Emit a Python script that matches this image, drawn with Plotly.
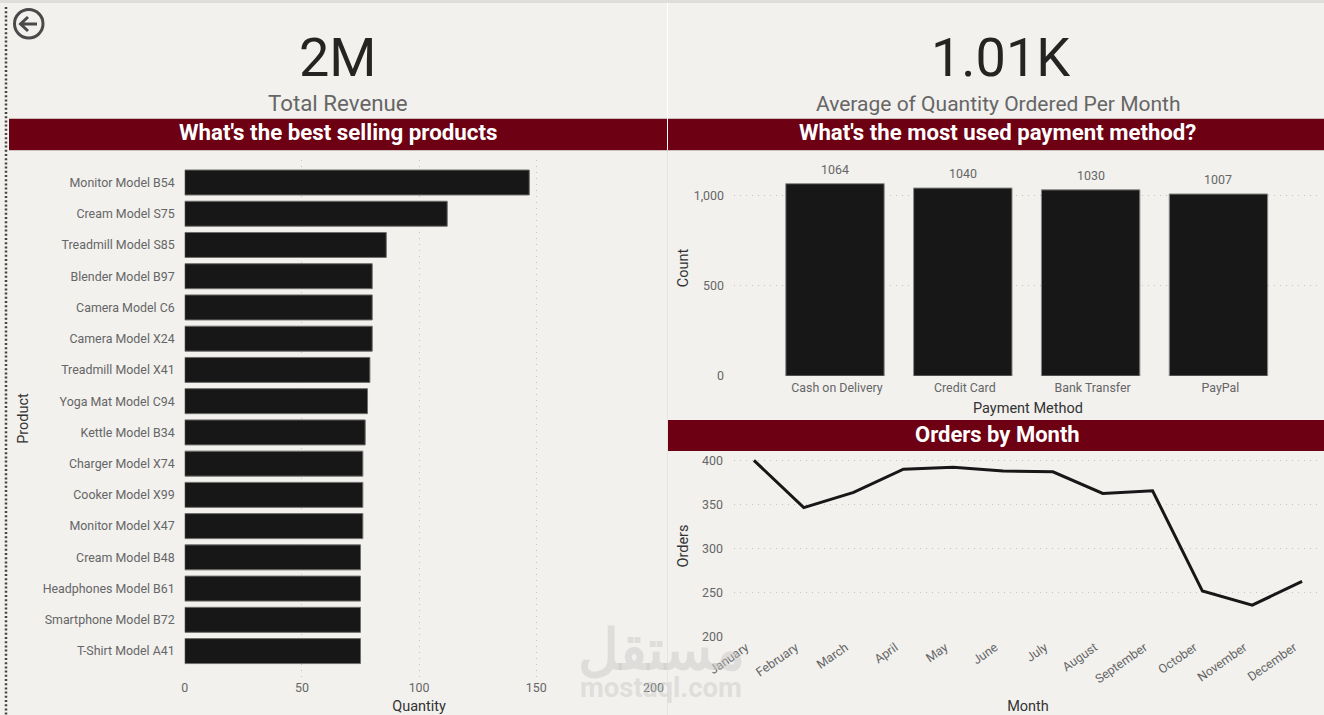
import plotly.graph_objects as go

products = ["Monitor Model B54", "Cream Model S75", "Treadmill Model S85", "Blender Model B97",
            "Camera Model C6", "Camera Model X24", "Treadmill Model X41", "Yoga Mat Model C94",
            "Kettle Model B34", "Charger Model X74", "Cooker Model X99", "Monitor Model X47",
            "Cream Model B48", "Headphones Model B61", "Smartphone Model B72", "T-Shirt Model A41"]
quantity = [147, 112, 86, 80, 80, 80, 79, 78, 77, 76, 76, 76, 75, 75, 75, 75]

payment_methods = ["Cash on Delivery", "Credit Card", "Bank Transfer", "PayPal"]
payment_counts = [1064, 1040, 1030, 1007]

months = ["January", "February", "March", "April", "May", "June", "July", "August",
          "September", "October", "November", "December"]
orders = [400, 346.5, 363.6, 390, 392, 388, 387, 362.5, 365.5, 252, 236, 263]

W, H = 1324, 715
BG = "#F2F1EE"
MAROON = "#6D0012"
BAR = "#171717"
TICK = "#666666"
TITLE = "#333333"
GRID = "#C4C3C0"
FONT = "Roboto"


def px(x):
    return x / W


def py(y):
    return 1 - y / H


fig = go.Figure()

fig.add_trace(go.Bar(y=products, x=quantity, orientation="h", width=0.8, xaxis="x", yaxis="y",
                     marker=dict(color=BAR, line=dict(color="#6E6E6C", width=1)),
                     hoverinfo="x+y"))
fig.add_trace(go.Bar(x=payment_methods, y=payment_counts, width=0.77, xaxis="x2", yaxis="y2",
                     marker=dict(color=BAR, line=dict(color="#8A8A88", width=1)),
                     hoverinfo="x+y"))
fig.add_trace(go.Scatter(x=months, y=orders, mode="lines", xaxis="x3", yaxis="y3",
                         line=dict(color=BAR, width=3), cliponaxis=False, hoverinfo="x+y"))


def axis(domain, anchor, **kw):
    base = dict(domain=domain, anchor=anchor, showline=False, zeroline=False, ticks="",
                tickfont=dict(color=TICK, size=12.4, family=FONT), automargin=False)
    base.update(kw)
    return base


def axis_title(text, standoff):
    return dict(text=text, font=dict(color=TITLE, size=14.5, family=FONT), standoff=standoff)


grid = dict(showgrid=True, gridcolor=GRID, griddash="1px 5px", gridwidth=1)

fig.update_layout(
    width=W, height=H, autosize=False, showlegend=False,
    margin=dict(l=0, r=0, t=0, b=0),
    paper_bgcolor=BG, plot_bgcolor=BG,
    font=dict(family=FONT, color=TICK),
    bargap=0.2,
    xaxis=axis([px(184.7), px(653.5)], "y", range=[0, 200], tickvals=[0, 50, 100, 150, 200],
               ticklabelstandoff=2, title=axis_title("Quantity", 10), **grid),
    yaxis=axis([py(677), py(160)], "x", type="category", categoryorder="array", categoryarray=products,
               range=[15.83, -0.72], showgrid=False, ticklabelstandoff=9, title=axis_title("Product", 10)),
    xaxis2=axis([px(734), px(1322)], "y2", type="category", categoryorder="array",
                categoryarray=payment_methods, range=[-0.79, 3.81], showgrid=False,
                ticklabelstandoff=3, ticklabelshift=2, title=axis_title("Payment Method", 8)),
    yaxis2=axis([py(376), py(160)], "x2", range=[0, 1195], tickvals=[0, 500, 1000], tickformat=",",
                ticklabelstandoff=9, title=axis_title("Count", 1), **grid),
    xaxis3=axis([px(734), px(1322)], "y3", type="category", categoryorder="array", categoryarray=months,
                range=[-0.4, 11.4], showgrid=False, tickangle=-35, ticklabelshift=-8,
                title=axis_title("Month", 19)),
    yaxis3=axis([py(637), py(455)], "x3", range=[200, 406], tickvals=[200, 250, 300, 350, 400],
                ticklabelstandoff=10, title=axis_title("Orders", 10), **grid),
)

# Header bands, panel dividers and the window edge
shapes = []


def rect(x0, y0, x1, y1, color):
    shapes.append(dict(type="rect", xref="paper", yref="paper", x0=px(x0), x1=px(x1), y0=py(y0), y1=py(y1),
                       fillcolor=color, line=dict(width=0), layer="below"))


rect(9, 119, 667, 150, MAROON)
rect(668, 119, 1324, 150, MAROON)
rect(668, 420, 1324, 451, MAROON)
rect(0, 0, W, 3, "#DEDEDC")
rect(9, 118, 1324, 119, "#C9B9B9")
rect(9, 150, 1324, 151, "#CDBDBD")
rect(667, 3, 668, 150, "#FFFFFF")
rect(667, 151, 668, 715, "#E6E5E2")
shapes.append(dict(type="line", xref="paper", yref="paper", x0=px(6), x1=px(6), y0=py(7), y1=py(715),
                   line=dict(color="#444444", width=2.5, dash="2px 2.2px")))

# Back button
shapes.append(dict(type="circle", xref="paper", yref="paper", x0=px(14.5), x1=px(43), y0=py(9.5), y1=py(38),
                   line=dict(color="#4A4A4A", width=3)))
shapes.append(dict(type="path", xref="paper", yref="paper",
                   path=f"M {px(37)} {py(24)} L {px(21)} {py(24)} M {px(28)} {py(17)} "
                        f"L {px(20.5)} {py(24)} L {px(28)} {py(31)}",
                   line=dict(color="#4A4A4A", width=3)))

texts = [
    ("2M", 338, 58, 54, "#252423"),
    ("Total Revenue", 338, 103, 22.3, "#666666"),
    ("1.01K", 1000, 58, 54, "#252423"),
    ("Average of Quantity Ordered Per Month", 998, 104, 21, "#666666"),
    ("<b>What's the best selling products</b>", 338, 132, 22.3, "#FFFFFF"),
    ("<b>What's the most used payment method?</b>", 997, 132, 22.2, "#FFFFFF"),
    ("<b>Orders by Month</b>", 997, 434, 22, "#FFFFFF"),
    ("<b>mostaql.com</b>", 661, 687, 27.5, "rgba(200,198,195,0.45)"),
    ("<b>مستقل</b>", 661, 650, 56, "rgba(200,198,195,0.45)"),
]
annotations = [dict(text=t, x=px(x), y=py(y), xref="paper", yref="paper", xanchor="center", yanchor="middle",
                    showarrow=False, font=dict(size=s, color=c, family=FONT))
               for t, x, y, s, c in texts]

# Value labels above the payment bars
annotations += [dict(text=str(v), x=m, y=v, xref="x2", yref="y2", xanchor="center", yanchor="bottom",
                     yshift=5, showarrow=False, font=dict(size=12.4, color=TICK, family=FONT))
                for m, v in zip(payment_methods, payment_counts)]

fig.update_layout(shapes=shapes, annotations=annotations)
fig.write_html("out.html")
